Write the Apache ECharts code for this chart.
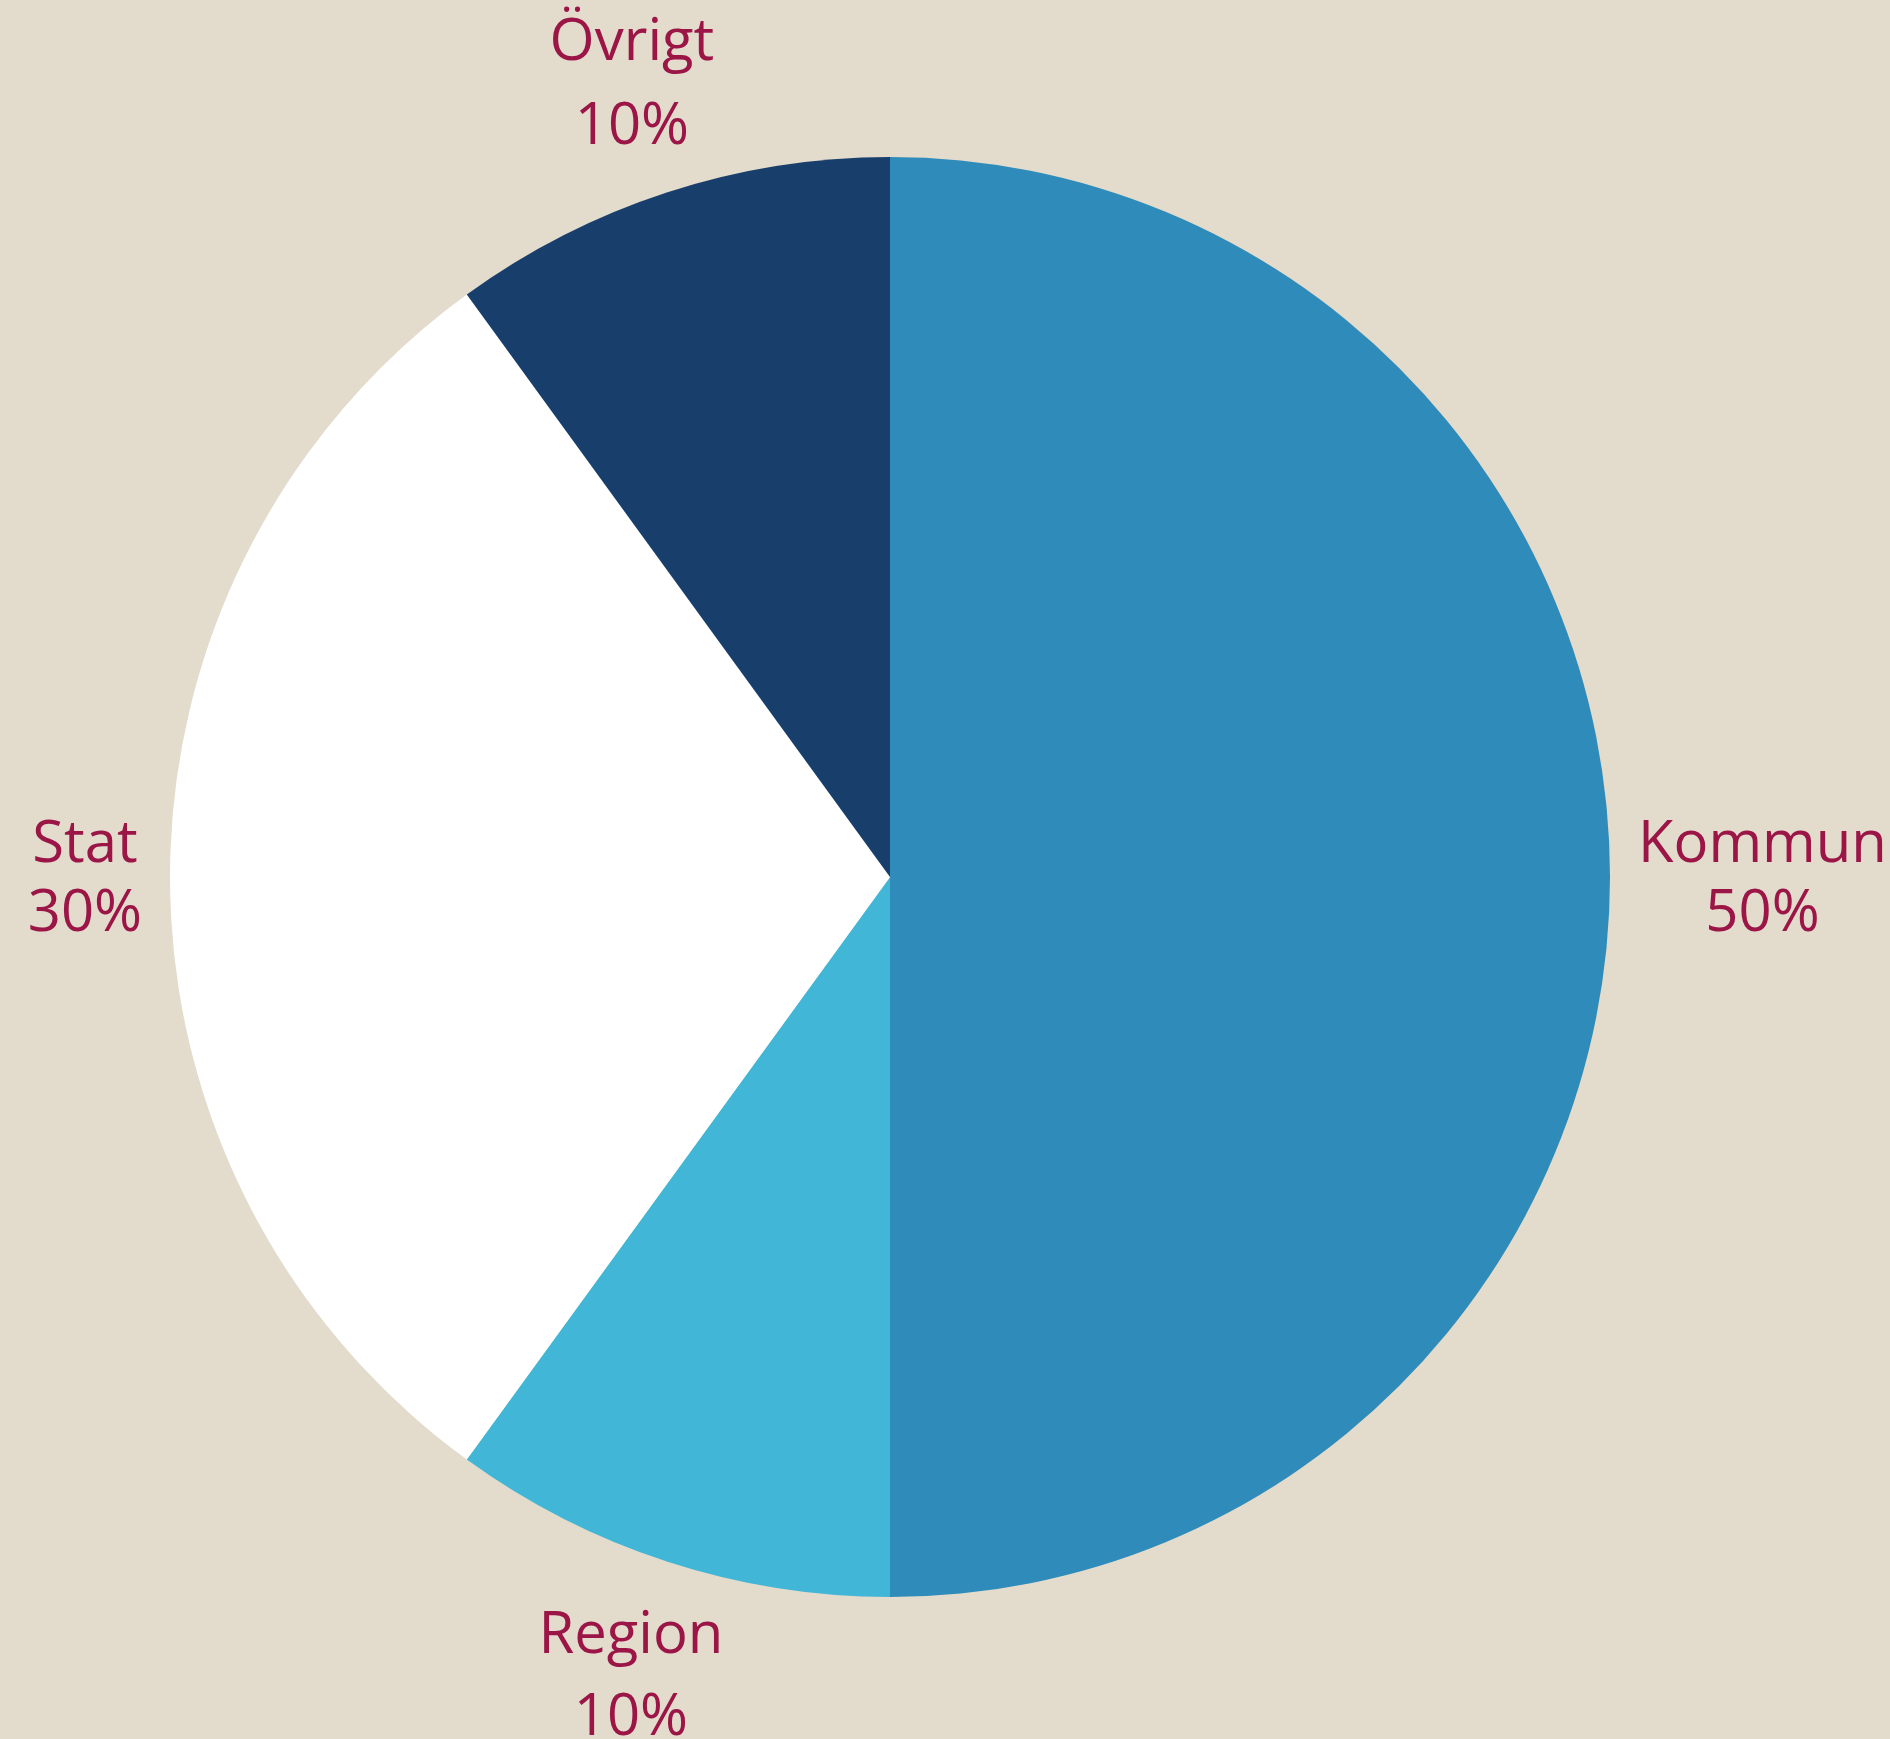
<!DOCTYPE html>
<html>
<head>
<meta charset="utf-8">
<script src="https://cdn.jsdelivr.net/npm/echarts@6/dist/echarts.min.js"></script>
<style>
  html, body { margin: 0; padding: 0; background: #e3dbcc; }
  #chart { width: 1890px; height: 1739px; }
</style>
</head>
<body>
<div id="chart"></div>
<script>
const categories = ['Kommun', 'Region', 'Stat', 'Övrigt'];
const values = [50, 10, 30, 10];
const sliceColors = ['#2e8bba', '#42b6d6', '#ffffff', '#183f6c'];
const labelLineHeights = [69, 82, 69, 84];

const CX = 890, CY = 877, R = 720, GAP = 28, FONT = 58;
const total = values.reduce((a, b) => a + b, 0);
const midAngles = [];
let acc = 0;
values.forEach(v => { midAngles.push((acc + v / 2) / total * 2 * Math.PI); acc += v; });

const chart = echarts.init(document.getElementById('chart'), null, { renderer: 'canvas' });
chart.setOption({
  backgroundColor: '#e3dbcc',
  animation: false,
  series: [{
    type: 'pie',
    center: [CX, CY],
    radius: [0, R],
    startAngle: 90,
    clockwise: true,
    data: categories.map((c, i) => ({
      name: c, value: values[i],
      itemStyle: { color: sliceColors[i] },
      label: { lineHeight: labelLineHeights[i] }
    })),
    label: {
      show: true,
      position: 'outside',
      formatter: '{b}\n{d}%',
      color: '#9b1547',
      fontFamily: 'Open Sans',
      fontSize: FONT,
      overflow: 'none',
      align: 'center'
    },
    labelLine: { show: false },
    emphasis: { disabled: true },
    labelLayout: function (p) {
      const a = midAngles[p.dataIndex];
      const ux = Math.sin(a), uy = -Math.cos(a);
      const hw = p.labelRect.width / 2, hh = FONT * 1.12;
      const sup = hw * Math.abs(ux) + hh * Math.abs(uy);
      const d = R + GAP + sup;
      return { x: CX + ux * d, y: CY + uy * d + 3, align: 'center', verticalAlign: 'middle' };
    }
  }]
});
</script>
</body>
</html>
